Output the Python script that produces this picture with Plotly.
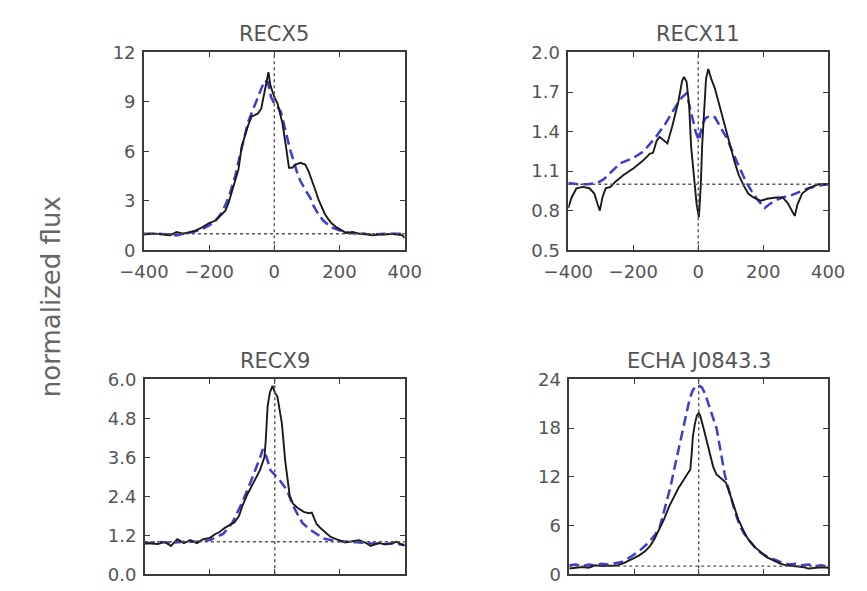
import plotly.graph_objects as go

# ---------------- data (velocity in km/s, normalized flux) ----------------
titles = ["RECX5", "RECX11", "RECX9", "ECHA J0843.3"]

recx5_obs_v = [-400, -380, -360, -340, -320, -300, -280, -260, -240, -220, -200, -180, -160, -150, -140,
               -130, -120, -110, -100, -90, -80, -70, -60, -50, -40, -30, -24, -18, -12, -5, 0, 10, 20, 25,
               35, 45, 55, 65, 80, 95, 105, 115, 125, 135, 145, 155, 165, 175, 190, 205, 220, 240, 260,
               280, 300, 320, 340, 360, 380, 393, 400]
recx5_obs_f = [0.95, 1.0, 1.0, 0.95, 0.9, 1.1, 1.0, 1.1, 1.2, 1.4, 1.65, 1.8, 2.2, 2.4, 2.9,
               3.6, 4.3, 4.9, 6.3, 7.0, 7.6, 8.1, 8.2, 8.3, 8.6, 9.6, 10.3, 10.8, 10.0, 9.6, 9.3, 8.9, 8.1, 7.7,
               6.4, 5.0, 5.0, 5.2, 5.3, 5.2, 4.8, 4.3, 3.7, 3.1, 2.6, 2.2, 1.9, 1.65, 1.4, 1.2, 1.05, 1.1, 1.0,
               1.0, 0.9, 0.95, 0.95, 1.0, 0.95, 0.9, 0.75]
recx5_mod_v = [-400, -360, -320, -300, -280, -250, -220, -200, -180, -160, -140, -120, -100, -80, -60,
               -45, -30, -20, -10, 0, 10, 20, 30, 40, 50, 60, 70, 80, 90, 100, 110, 120, 135, 150, 165,
               180, 200, 230, 260, 300, 340, 380, 400]
recx5_mod_f = [1.0, 1.0, 0.95, 0.9, 1.0, 1.1, 1.3, 1.5, 1.8, 2.3, 3.2, 4.5, 6.2, 7.8, 8.8,
               9.5, 10.3, 10.2, 9.3, 8.9, 8.7, 8.4, 7.6, 6.8, 6.0, 5.4, 4.7, 4.2, 3.8, 3.5, 3.2, 2.7, 2.2, 1.8, 1.55,
               1.35, 1.2, 1.05, 1.0, 0.95, 1.0, 1.0, 1.0]

recx11_obs_v = [-400, -390, -375, -355, -335, -320, -310, -303, -295, -285, -270, -255, -230, -200, -170,
                -150, -139, -128, -119, -108, -95, -80, -61, -50, -44, -36, -28, -22, -12, -5, 2, 8, 12,
                18, 24, 31, 40, 51, 63, 76, 88, 100, 112, 125, 140, 154, 170, 193, 212, 240, 260, 275,
                288, 297, 306, 320, 340, 370, 400]
recx11_obs_f = [0.82, 0.9, 0.97, 0.98, 0.97, 0.93, 0.85, 0.8, 0.9, 0.97, 0.98, 1.02, 1.07, 1.12, 1.18,
                1.23, 1.24, 1.33, 1.36, 1.34, 1.31, 1.44, 1.63, 1.78, 1.815, 1.78, 1.6, 1.29, 1.05, 0.85, 0.75, 1.0, 1.29,
                1.6, 1.8, 1.875, 1.8, 1.73, 1.62, 1.51, 1.38, 1.27, 1.17, 1.07, 0.99, 0.93, 0.9, 0.875, 0.89, 0.9, 0.9, 0.86,
                0.8, 0.76, 0.85, 0.93, 0.97, 1.0, 1.0]
recx11_mod_v = [-400, -370, -340, -310, -290, -270, -240, -200, -168, -130, -101, -72, -50, -36, -25,
                -17, -8, 2, 12, 22, 37, 51, 70, 90, 110, 125, 145, 164, 180, 198, 205, 215, 231, 260,
                290, 310, 340, 370, 400]
recx11_mod_f = [1.01, 1.0, 1.0, 1.01, 1.04, 1.09, 1.16, 1.2, 1.25, 1.36, 1.46, 1.58, 1.66, 1.69, 1.58,
                1.49, 1.4, 1.33, 1.45, 1.5, 1.52, 1.51, 1.43, 1.34, 1.22, 1.14, 1.03, 0.95, 0.89, 0.84, 0.82, 0.84, 0.87, 0.9,
                0.92, 0.94, 0.97, 0.99, 1.0]

recx9_obs_v = [-400, -380, -360, -340, -320, -300, -280, -260, -240, -220, -200, -183, -170, -154, -140,
               -124, -110, -100, -85, -66, -46, -32, -28, -22, -15, -7, 0, 8, 15, 22, 32, 40, 46, 56, 70,
               89, 105, 114, 122, 129, 143, 158, 172, 187, 200, 217, 240, 260, 280, 295, 320, 340, 360,
               375, 390, 400]
recx9_obs_f = [0.96, 0.95, 0.93, 1.0, 0.87, 1.08, 0.96, 1.05, 0.96, 1.08, 1.12, 1.24, 1.3, 1.43, 1.5,
               1.6, 1.8, 2.1, 2.45, 2.8, 3.2, 3.6, 4.09, 5.18, 5.6, 5.8, 5.6, 5.47, 5.1, 4.64, 3.5, 2.8, 2.42, 2.17, 2.05,
               1.92, 1.88, 1.9, 1.7, 1.54, 1.4, 1.28, 1.15, 1.09, 1.05, 0.98, 1.02, 1.05, 0.97, 0.87, 0.96, 0.92, 0.95,
               1.0, 0.92, 0.88]
recx9_mod_v = [-400, -360, -320, -280, -240, -200, -180, -159, -130, -101, -76, -56, -45, -37, -25,
               -13, 0, 15, 37, 56, 70, 85, 105, 129, 150, 183, 220, 260, 300, 340, 370, 400]
recx9_mod_f = [0.95, 1.0, 0.97, 1.0, 1.0, 1.05, 1.15, 1.24, 1.6, 2.2, 2.8, 3.3, 3.6, 3.85, 3.6,
               3.2, 3.05, 2.9, 2.6, 2.12, 1.85, 1.58, 1.4, 1.24, 1.1, 1.03, 1.0, 0.98, 0.95, 0.93, 0.95, 0.9]

echa_obs_v = [-400, -380, -360, -340, -320, -300, -280, -253, -230, -204, -185, -165, -150, -136, -122,
              -107, -92, -77, -63, -53, -40, -30, -26, -22, -18, -12, -6, 0, 5, 15, 25, 35, 45, 55, 70,
              84, 93, 103, 113, 123, 138, 153, 172, 192, 210, 231, 250, 271, 300, 320, 340, 360, 380, 400]
echa_obs_f = [0.7, 0.8, 0.9, 0.8, 1.1, 1.0, 1.05, 1.07, 1.4, 1.9, 2.3, 2.85, 3.5, 4.4, 5.5,
              6.8, 8.3, 9.6, 10.6, 11.2, 12.0, 12.6, 12.9, 14.7, 17.0, 18.5, 19.5, 19.9, 19.5, 18.0, 16.3, 14.7, 13.2, 12.3, 11.8,
              11.3, 10.3, 9.1, 7.9, 6.7, 5.4, 4.3, 3.4, 2.65, 2.1, 1.7, 1.35, 1.1, 0.95, 0.9, 0.7, 0.75, 0.85, 0.8]
echa_mod_v = [-400, -380, -360, -340, -320, -300, -280, -260, -238, -204, -180, -155, -138, -121,
              -107, -97, -87, -77, -70, -62, -52, -44, -36, -28, -18, -8, 0, 10, 20, 29, 40, 48,
              55, 64, 73, 80, 88, 98, 108, 118, 128, 140, 153, 172, 192, 215, 241, 260, 280, 300, 320,
              340, 360, 380, 400]
echa_mod_f = [1.1, 1.2, 1.0, 1.2, 1.1, 1.3, 1.2, 1.3, 1.5, 2.3, 3.0, 3.9, 4.7, 5.7,
              7.7, 9.2, 10.8, 12.7, 14.0, 15.5, 17.1, 18.8, 20.3, 21.6, 22.7, 23.2, 23.3, 23.0, 22.2, 21.1, 20.0, 19.0,
              18.0, 16.0, 13.9, 12.4, 11.1, 9.6, 8.3, 7.0, 5.9, 5.0, 4.3, 3.4, 2.65, 2.1, 1.7, 1.4, 1.2, 1.3, 1.1,
              1.2, 1.0, 1.1, 0.9]

observed = [(recx5_obs_v, recx5_obs_f), (recx11_obs_v, recx11_obs_f),
            (recx9_obs_v, recx9_obs_f), (echa_obs_v, echa_obs_f)]
models = [(recx5_mod_v, recx5_mod_f), (recx11_mod_v, recx11_mod_f),
          (recx9_mod_v, recx9_mod_f), (echa_mod_v, echa_mod_f)]

x_ticks = [-400, -200, 0, 200, 400]
y_ranges = [[0, 12], [0.5, 2.0], [0.0, 6.0], [0, 24]]
y_ticks = [[0, 3, 6, 9, 12], [0.5, 0.8, 1.1, 1.4, 1.7, 2.0],
           [0.0, 1.2, 2.4, 3.6, 4.8, 6.0], [0, 6, 12, 18, 24]]
y_formats = ["d", ".1f", ".1f", "d"]
continuum = 1.0
line_center = 0.0
ylabel = "normalized flux"

# ---------------- layout (pixel boxes) ----------------
W, H = 867, 591
boxes = [(125, 399, 43, 248), (571, 844, 43, 248), (126, 399, 382, 584), (572, 844, 382, 584)]

FONT = "DejaVu Sans"
TXT = "#545454"
AX = "#3a3a3a"

fig = go.Figure()
layout = dict(width=W, height=H, margin=dict(l=0, r=0, t=0, b=0),
              paper_bgcolor="white", plot_bgcolor="white", showlegend=False,
              annotations=[], shapes=[])

for i in range(4):
    n = "" if i == 0 else str(i + 1)
    xa, ya = "x" + n, "y" + n
    x0, x1, y0, y1 = boxes[i]
    xd = [x0 / W, x1 / W]
    yd = [1 - y1 / H, 1 - y0 / H]
    ov, of = observed[i]
    mv, mf = models[i]
    fig.add_trace(go.Scatter(x=mv, y=mf, mode="lines", xaxis=xa, yaxis=ya,
                             line=dict(color="rgb(60,60,210)", width=2.5, dash="10px,5px")))
    fig.add_trace(go.Scatter(x=ov, y=of, mode="lines", xaxis=xa, yaxis=ya,
                             line=dict(color="#1a1a1a", width=1.9)))
    common = dict(showline=True, linecolor=AX, linewidth=1.6, mirror="ticks", ticks="inside",
                  ticklen=5, tickwidth=1.3, tickcolor=AX, showgrid=False, zeroline=False,
                  tickfont=dict(family=FONT, size=18, color=TXT))
    layout["xaxis" + n] = dict(common, domain=xd, range=[-400, 400], tickvals=x_ticks,
                               anchor=ya, showticklabels=(i < 2), ticklabelstandoff=4)
    layout["yaxis" + n] = dict(common, domain=yd, range=y_ranges[i], tickvals=y_ticks[i],
                               tickformat=y_formats[i], anchor=xa, ticklabelstandoff=3)
    # dotted reference lines
    layout["shapes"].append(dict(type="line", xref=xa, yref=ya + " domain", x0=line_center, x1=line_center,
                                 y0=0, y1=1, line=dict(color="#555555", width=1.4, dash="dot")))
    layout["shapes"].append(dict(type="line", xref=xa + " domain", yref=ya, x0=0, x1=1,
                                 y0=continuum, y1=continuum, line=dict(color="#555555", width=1.4, dash="dot")))
    layout["annotations"].append(dict(text=titles[i], xref="paper", yref="paper",
                                      x=(x0 + x1) / 2 / W, y=1 - (y0 - 19) / H,
                                      xanchor="center", yanchor="middle", showarrow=False,
                                      font=dict(family=FONT, size=21, color=TXT)))

layout["annotations"].append(dict(text=ylabel, xref="paper", yref="paper", x=28 / W, y=1 - 296 / H,
                                  xanchor="center", yanchor="middle", textangle=-90, showarrow=False,
                                  font=dict(family=FONT, size=26, color="#666666")))

fig.update_layout(**layout)
fig.write_html("out.html")
